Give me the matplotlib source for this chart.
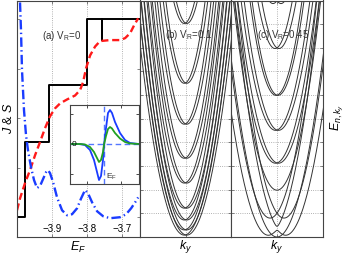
import numpy as np
import matplotlib.pyplot as plt

plt.rcParams['font.family'] = ['Liberation Sans', 'DejaVu Sans']
plt.rcParams['mathtext.fontset'] = 'custom'
plt.rcParams['mathtext.rm'] = 'Liberation Sans'
plt.rcParams['mathtext.it'] = 'Liberation Sans:italic'

# panel (a): conductance J and spin S vs Fermi energy
ef_j = [-4.0, -3.977, -3.977, -3.909, -3.909, -3.80, -3.80, -3.757, -3.757, -3.757, -3.65]
j_val = [0, 0, 1.52, 1.52, 2.67, 2.67, 4.0, 4.0, 3.58, 4.0, 4.0]

ef_s = [-4.0, -3.9914, -3.9771, -3.9629, -3.9486, -3.9343, -3.92, -3.9057, -3.8914,
        -3.8771, -3.8571, -3.8343, -3.82, -3.8114, -3.8029, -3.7914, -3.7771, -3.7629,
        -3.7343, -3.7057, -3.6914, -3.6771, -3.6657, -3.6543]
s_val = [0.14, 0.38, 0.69, 0.95, 1.25, 1.52, 1.80, 2.04, 2.20, 2.30, 2.38, 2.46, 2.57,
         2.73, 3.01, 3.27, 3.45, 3.56, 3.58, 3.58, 3.62, 3.72, 3.88, 4.02]

ef_b = [-3.9914, -3.9886, -3.9857, -3.98, -3.9743, -3.9686, -3.96, -3.9514, -3.9429,
        -3.9343, -3.9257, -3.9171, -3.9114, -3.9057, -3.8971, -3.8857, -3.8714, -3.8571,
        -3.8429, -3.8286, -3.8171, -3.8057, -3.7971, -3.7857, -3.7714, -3.7543, -3.7343,
        -3.7057, -3.6886, -3.6743, -3.6629, -3.6543]
b_val = [4.34, 3.78, 2.97, 2.16, 1.66, 1.35, 1.01, 0.75, 0.59, 0.63, 0.77, 0.91, 0.95,
         0.89, 0.71, 0.40, 0.14, 0.04, 0.06, 0.18, 0.38, 0.55, 0.48, 0.30, 0.12, 0.02,
         -0.02, 0.0, 0.06, 0.18, 0.30, 0.40]

# inset
in_x = [-3.4, -2.4, -1.9, -1.4, -1.0, -0.7, -0.5, -0.3, -0.1, 0, 0.2, 0.4, 0.6, 0.8,
        1.1, 1.6, 2.1, 2.6, 3.5]
in_blue = [0, 0, -0.1, -0.6, -1.6, -2.8, -3.6, -3.2, -1.6, -0.1, 1.6, 3.1, 3.4, 3.1,
           2.2, 1.1, 0.4, 0.1, 0]
in_green = [0, 0, -0.05, -0.3, -0.8, -1.4, -1.8, -1.6, -0.8, -0.05, 0.8, 1.5, 1.7,
            1.55, 1.1, 0.55, 0.2, 0.05, 0]

# panel (b) subbands: minimum, curvature, rashba shift, gap
b_e0 = [9.03, 6.50, 4.77, 3.33, 2.28, 1.22, 0.72, 0.30, 0.08]
b_a = [17.5, 16.4, 14.9, 13.5, 12.3, 11.4, 10.4, 9.5, 8.6]
b_d = [0.029] * 9
b_g = [0] * 9

# panel (c)
c_e0 = [9.87, 7.97, 5.99, 4.51, 3.12, 1.98, 0.80, 0.08, 0.0]
c_a = [17.0, 14.3, 12.5, 9.8, 8.75, 8.9, 8.9, 8.0, 7.6]
c_d = [0.087, 0.043, 0.022, 0.033, 0.033, 0.0, 0.152, 0.19, 0.0]
c_g = [0, 0, 0, 0, 0, 0, 0, 0.084, 0]

fig = plt.figure(figsize=(3.5, 2.64), dpi=100)
top = 1 - 0.5 / 264
bot = 27 / 264
ax_a = fig.add_axes([17 / 350, bot, 123 / 350, top - bot])
ax_b = fig.add_axes([140 / 350, bot, 91 / 350, top - bot])
ax_c = fig.add_axes([231 / 350, bot, 92 / 350, top - bot])

for ax in (ax_a, ax_b, ax_c):
    for sp in ax.spines.values():
        sp.set_color('#444444')
        sp.set_linewidth(0.8)
    ax.tick_params(direction='in', length=2.5, width=0.5, color='#555555',
                   top=True, right=True, labelsize=7)

ax_a.plot(ef_j, j_val, color='black', lw=1.4)
ax_a.plot(ef_s, s_val, color='#ff1a1a', lw=1.7, dashes=(3, 1.6))
ax_a.plot(ef_b, b_val, color='#1a3cff', lw=1.7, dashes=(4, 1.4, 0.6, 1.4))
ax_a.set_xlim(-4.0, -3.649)
ax_a.set_ylim(-0.4, 4.38)
ax_a.set_xticks([-3.9, -3.8, -3.7])
ax_a.set_yticks([0, 1, 2, 3, 4])
ax_a.set_yticklabels([])
ax_a.tick_params(axis='x', pad=-9)
ax_a.grid(axis='x', ls=':', color='#999999', lw=0.6)
ax_a.text(0.2, 0.852, r'(a) V$_\mathregular{R}$=0', transform=ax_a.transAxes,
          fontsize=7, va='center', color='#333333')

ax_in = fig.add_axes([70 / 350, 80 / 264, 69 / 350, 79 / 264])
ax_in.axhline(0, color='#5577ff', lw=1.0, dashes=(4, 2.5))
ax_in.axvline(0, color='#5577ff', lw=1.0, dashes=(4, 2.5))
ax_in.plot(in_x, in_blue, color='#1a3cff', lw=1.3)
ax_in.plot(in_x, in_green, color='#22a022', lw=1.3)
ax_in.set_xlim(-3.4, 3.5)
ax_in.set_ylim(-4.0, 3.9)
ax_in.set_xticks([-1.7, 1.7])
ax_in.set_yticks([-3, 0, 3])
ax_in.set_xticklabels([])
ax_in.set_yticklabels([])
ax_in.tick_params(direction='in', length=2, width=0.5, top=True, right=True)
for sp in ax_in.spines.values():
    sp.set_color('#444444')
    sp.set_linewidth(0.8)
ax_in.text(-3.25, 0, '0', fontsize=6, va='center', ha='left')
ax_in.text(0.2, -3.3, r'E$_\mathregular{F}$', fontsize=6, va='center', ha='left',
           color='#333333')

k = np.linspace(-1.2, 1.2, 600)
for ax, e0s, As, ds, gs, lab, lx in ((ax_b, b_e0, b_a, b_d, b_g, r'(b) V$_\mathregular{R}$=0.1', 0.275),
                                     (ax_c, c_e0, c_a, c_d, c_g, r'(c) V$_\mathregular{R}$=0.45', 0.283)):
    for e0, a, d, g in zip(e0s, As, ds, gs):
        mid = e0 + a * (k ** 2 + d ** 2)
        sq = np.sqrt((2 * a * d * k) ** 2 + g ** 2)
        ax.plot(k, mid - sq, color='#333333', lw=0.7)
        if d > 0 or g > 0:
            ax.plot(k, mid + sq, color='#333333', lw=0.7)
    ax.set_xlim(-1, 1)
    ax.set_ylim(0, 10)
    ax.set_xticks([0])
    ax.set_yticks(range(1, 10))
    ax.set_xticklabels([])
    ax.set_yticklabels([])
    ax.grid(ls=':', color='#999999', lw=0.6)
    ax.text(lx, 0.855, lab, transform=ax.transAxes, fontsize=7, va='center',
            color='#333333')

fig.text(78 / 350, 1 - 247 / 264, r'$E_F$', fontsize=9, ha='center', va='center')
fig.text(186 / 350, 1 - 247 / 264, r'$k_y$', fontsize=9, ha='center', va='center')
fig.text(277 / 350, 1 - 247 / 264, r'$k_y$', fontsize=9, ha='center', va='center')
fig.text(8 / 350, 1 - 118 / 264, r'$J$ & $S$', fontsize=9, rotation=90,
         ha='center', va='center')
fig.text(337 / 350, 1 - 118 / 264, r'$E_{n,k_y}$', fontsize=9, rotation=90,
         ha='center', va='center')

fig.savefig('out.png', dpi=100)
